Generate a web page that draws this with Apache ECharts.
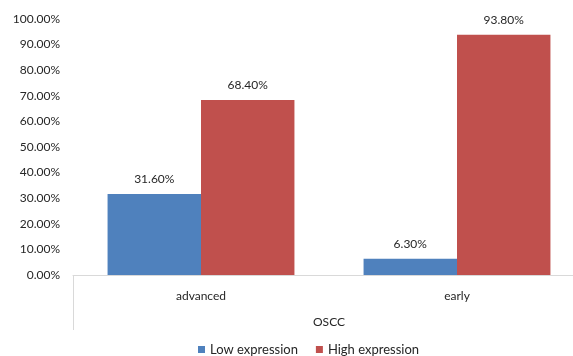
<!DOCTYPE html>
<html><head><meta charset="utf-8">
<script src="https://cdn.jsdelivr.net/npm/echarts@6/dist/echarts.min.js"></script>
<style>html,body{margin:0;padding:0;background:#fff}#c{width:573px;height:356px}</style>
</head><body><div id="c"></div>
<script>
const categories = ['advanced', 'early'];
const groupLabel = ['OSCC'];
const lowExpression = [31.6, 6.3];
const highExpression = [68.4, 93.8];
const seriesNames = ['Low expression', 'High expression'];

const font = 'Lato, "Open Sans", sans-serif';
const chart = echarts.init(document.getElementById('c'));
const labelCfg = {
  show: true, position: 'top', distance: 9, color: '#262626', fontSize: 12, fontFamily: font,
  formatter: p => p.value.toFixed(2) + '%'
};
chart.setOption({
  animation: false,
  textStyle: { fontFamily: font },
  grid: { left: 73, width: 512, top: 19, bottom: 81, containLabel: false, outerBoundsMode: 'none' },
  legend: {
    top: 343, left: 198, padding: 0, itemWidth: 7, itemHeight: 7, icon: 'rect', itemGap: 18,
    textStyle: { fontSize: 13, color: '#262626', fontFamily: font },
    data: seriesNames
  },
  xAxis: [{
    type: 'category', data: categories, position: 'bottom',
    axisLine: { show: true, lineStyle: { color: '#d9d9d9', width: 1 } },
    axisTick: { show: false },
    axisLabel: { color: '#262626', fontSize: 12, margin: 15, fontFamily: font }
  }, {
    type: 'category', data: groupLabel, position: 'bottom',
    axisLine: { show: false },
    axisTick: { show: true, length: 55, lineStyle: { color: '#d9d9d9' } },
    axisLabel: { color: '#262626', fontSize: 12, margin: 41, fontFamily: font }
  }],
  yAxis: {
    type: 'value', min: 0, max: 100, interval: 10,
    axisLine: { show: false }, axisTick: { show: false }, splitLine: { show: false },
    axisLabel: { color: '#262626', fontSize: 12, margin: 13, fontFamily: font,
      formatter: v => v.toFixed(2) + '%' }
  },
  series: [
    { name: seriesNames[0], type: 'bar', data: lowExpression, barGap: '0%', barCategoryGap: '27%',
      itemStyle: { color: '#4F81BD' }, label: labelCfg },
    { name: seriesNames[1], type: 'bar', data: highExpression, barGap: '0%', barCategoryGap: '27%',
      itemStyle: { color: '#C0504D' }, label: labelCfg }
  ]
});
</script></body></html>
